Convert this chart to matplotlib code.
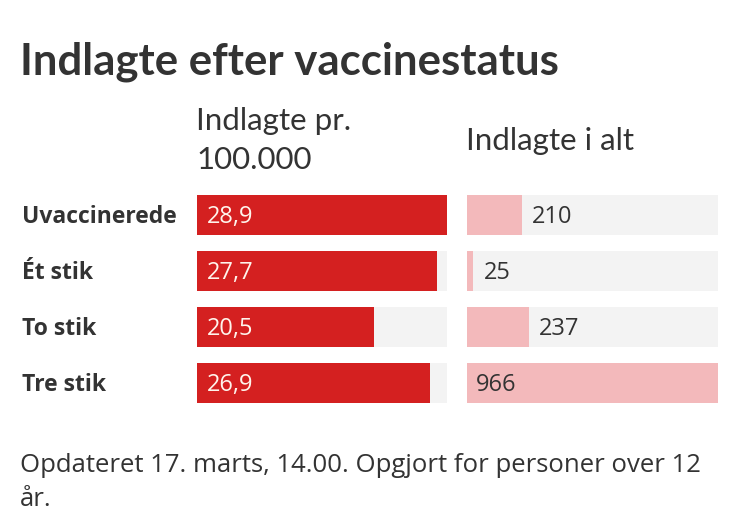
import numpy as np
import matplotlib.pyplot as plt

W, H = 750, 518

kategorier = ["Uvaccinerede", "Ét stik", "To stik", "Tre stik"]
pr_100k = [28.9, 27.7, 20.5, 26.9]
i_alt = [210, 25, 237, 966]

rod = "#d42020"
lyserod = "#f3b9bb"
baggrund = "#f3f3f3"
tekst = "#333333"

smal = ["Lato", "DejaVu Sans"]
bred = ["Open Sans", "DejaVu Sans"]
plt.rcParams["font.family"] = bred

fig = plt.figure(figsize=(W / 100, H / 100), dpi=100)
fig.patch.set_facecolor("white")


def fx(px):
    return px / W


def fy(py):
    return 1 - py / H


# rækker 56 px fra hinanden, første midt på y=215
top, bund = 187, 411
ax1 = fig.add_axes([fx(197), fy(bund), fx(447) - fx(197), fy(top) - fy(bund)])
ax2 = fig.add_axes([fx(467), fy(bund), fx(718) - fx(467), fy(top) - fy(bund)])

y = np.arange(len(kategorier))
h = 0.72

ax1.barh(y, [max(pr_100k)] * len(y), height=h, color=baggrund)
ax1.barh(y, pr_100k, height=h, color=rod)
ax1.set_xlim(0, max(pr_100k))
for yi, v in zip(y, pr_100k):
    ax1.text(max(pr_100k) * 0.04, yi + 0.03, f"{v:.1f}".replace(".", ","), color="#fff4ec",
             fontsize=17, va="center", ha="left")

ax2.barh(y, [max(i_alt)] * len(y), height=h, color=baggrund)
ax2.barh(y, i_alt, height=h, color=lyserod)
ax2.set_xlim(0, max(i_alt))
for yi, v in zip(y, i_alt):
    if v > 0.8 * max(i_alt):
        xpos = max(i_alt) * 0.035
    else:
        xpos = v + max(i_alt) * 0.04
    ax2.text(xpos, yi + 0.03, str(v), color=tekst, fontsize=17, va="center", ha="left")

for ax in (ax1, ax2):
    ax.set_ylim(len(y) - 0.5, -0.5)
    ax.axis("off")

for yi, k in zip(y, kategorier):
    ax1.text(-0.7, yi + 0.03, k, transform=ax1.get_yaxis_transform(), fontsize=16.5,
             fontweight="bold", color=tekst, va="center", ha="left")

fig.text(fx(20), fy(62), "Indlagte efter vaccinestatus", fontsize=31.5, fontweight="bold",
         color=tekst, va="center", ha="left", family=smal)
fig.text(fx(196), fy(121), "Indlagte pr.", fontsize=22.5, color=tekst, va="center",
         ha="left", family=smal)
fig.text(fx(196), fy(160), "100.000", fontsize=22.5, color=tekst, va="center", ha="left",
         family=smal)
fig.text(fx(466), fy(141), "Indlagte i alt", fontsize=22.5, color=tekst, va="center",
         ha="left", family=smal)

fig.text(fx(20), fy(466), "Opdateret 17. marts, 14.00. Opgjort for personer over 12",
         fontsize=18.5, color=tekst, va="center", ha="left")
fig.text(fx(20), fy(500), "år.", fontsize=18.5, color=tekst, va="center", ha="left")

fig.savefig("out.png", dpi=100)
